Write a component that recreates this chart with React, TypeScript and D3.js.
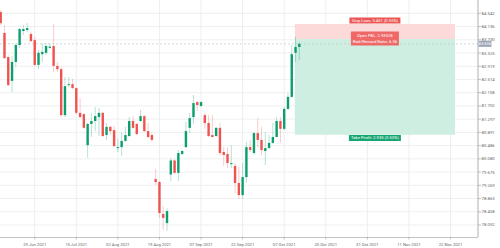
import React from "react";
import * as d3 from "d3";

const opens = [
  84.58, 83.94, 83.2, 82.47, 83.05, 83.57, 84.0, 84.03, 83.91, 83.72,
  82.96, 83.29, 83.33, 83.48, 83.54, 82.93, 82.83, 81.42, 82.34, 82.37,
  82.25, 81.49, 81.45, 80.5, 81.15, 81.24, 81.36, 81.49, 80.81, 81.06,
  80.96, 80.41, 80.44, 80.63, 80.78, 81.24, 81.15, 81.24, 81.39, 80.93,
  80.81, 79.46, 79.37, 78.39, 78.11, 79.6, 80.03, 79.65, 80.23, 80.44,
  81.03, 81.36, 81.82, 81.7, 81.42, 81.18, 80.81, 80.78, 81.03, 80.29,
  80.23, 79.92, 79.86, 79.34, 78.97, 79.52, 80.44, 80.26, 80.87, 80.66,
  80.32, 80.41, 80.57, 80.75, 81.24, 81.0, 81.61, 81.98, 83.33, 83.51,
];
const highs = [
  84.64, 84.18, 83.26, 83.23, 83.63, 84.09, 84.18, 84.24, 83.97, 83.82,
  83.42, 83.63, 83.63, 83.63, 84.21, 83.05, 82.9, 82.59, 82.59, 82.53,
  82.28, 81.95, 81.49, 81.18, 81.49, 81.67, 81.64, 81.52, 81.18, 81.09,
  81.09, 80.69, 80.9, 81.06, 81.36, 81.39, 81.18, 81.58, 81.42, 81.18,
  80.87, 79.77, 79.4, 78.63, 78.57, 80.11, 80.07, 80.35, 80.35, 81.21,
  81.49, 82.04, 81.85, 81.85, 81.49, 81.42, 81.42, 81.06, 81.18, 80.44,
  80.44, 80.5, 79.95, 79.83, 79.95, 80.6, 80.66, 80.9, 81.33, 81.06,
  80.9, 80.81, 81.18, 81.36, 81.36, 81.67, 82.1, 83.57, 83.82, 83.66,
];
const lows = [
  84.18, 83.14, 82.31, 82.13, 82.9, 83.48, 83.88, 83.97, 83.66, 82.93,
  82.83, 83.05, 83.26, 83.45, 82.74, 82.74, 81.36, 81.36, 82.28, 82.22,
  81.45, 81.33, 81.0, 80.11, 80.75, 80.93, 80.78, 80.75, 80.66, 80.81,
  80.44, 80.29, 80.17, 80.6, 80.75, 81.0, 80.81, 81.21, 80.9, 80.72,
  80.6, 79.28, 78.27, 77.9, 77.87, 79.4, 79.6, 79.4, 80.2, 80.41,
  80.87, 81.15, 81.55, 81.67, 81.0, 80.75, 80.73, 80.75, 80.17, 79.86,
  79.8, 79.8, 79.03, 78.85, 78.85, 79.34, 80.29, 80.2, 80.44, 80.2,
  79.89, 80.38, 80.54, 80.75, 80.57, 80.96, 81.58, 81.95, 83.05, 83.11,
];
const closes = [
  84.24, 83.17, 82.34, 83.05, 83.57, 84.06, 84.06, 84.09, 83.69, 82.96,
  83.33, 83.36, 83.54, 83.52, 82.93, 82.83, 81.42, 82.31, 82.37, 82.25,
  81.49, 81.36, 81.03, 81.15, 81.24, 81.39, 81.49, 80.78, 81.06, 80.93,
  80.47, 80.44, 80.63, 80.81, 81.24, 81.03, 80.84, 81.39, 80.93, 80.75,
  80.66, 79.37, 78.42, 78.27, 78.48, 80.03, 79.65, 80.26, 80.32, 80.93,
  81.33, 81.79, 81.73, 81.82, 81.18, 80.78, 80.75, 81.03, 80.26, 80.2,
  79.95, 79.95, 79.34, 78.97, 79.52, 80.44, 80.35, 80.87, 80.66, 80.35,
  80.41, 80.57, 80.75, 81.24, 81.0, 81.61, 81.98, 83.29, 83.51, 83.606,
];

const yTicks = [
  84.542, 84.136, 83.73, 83.325, 82.919, 82.514, 82.108, 81.702, 81.297,
  80.891, 80.486, 80.08, 79.675, 79.269, 78.863, 78.458, 78.052,
];
const xTickIndex = [9, 20, 31, 42, 53, 64, 75, 86, 97, 108, 119];
const xTickLabels = [
  "29 Jun 2021", "15 Jul 2021", "02 Aug 2021", "19 Aug 2021", "07 Sep 2021",
  "22 Sep 2021", "07 Oct 2021", "20 Oct 2021", "31 Oct 2021", "11 Nov 2021",
  "22 Nov 2021",
];

const entryPrice = 83.754;
const stopPrice = 84.215;
const targetPrice = 80.819;
const positionStart = 77.8;
const positionEnd = 120.2;
const currentPrice = 83.606;
const stopLabel = "Stop Loss: 0.461 (0.55%)";
const pnlLabel = "Open P&L: 2.93528";
const rrLabel = "Risk/Reward Ratio: 6.36";
const tpLabel = "Take Profit: 2.935 (3.50%)";

const W = 500;
const H = 248;
const plotRight = 478;
const plotBottom = 237;
const font = "Roboto, 'Open Sans', sans-serif";

export default function App() {
  const x = d3.scaleLinear().domain([0, 126.3]).range([0.7, 0.7 + 126.3 * 3.78]);
  const y = d3.scaleLinear().domain([77.684, 84.95]).range([plotBottom, 0]);
  const up = "#0c9e6c";
  const down = "#ef5350";
  const bw = 2.4;
  const midX = (x(positionStart) + x(positionEnd)) / 2;

  return (
    <div style={{ position: "fixed", left: 0, top: 0 }}>
      <svg width={W} height={H} style={{ display: "block", background: "#fff" }} fontFamily={font}>
        {/* grid */}
        {yTicks.map((t) => (
          <line key={"gy" + t} x1={0} x2={plotRight} y1={y(t)} y2={y(t)} stroke="#eef1f0" strokeWidth={1} />
        ))}
        {xTickIndex.map((t) => (
          <line key={"gx" + t} x1={x(t)} x2={x(t)} y1={0} y2={plotBottom} stroke="#eaf0ee" strokeWidth={1} />
        ))}
        {/* position zones */}
        <rect x={x(positionStart)} width={x(positionEnd) - x(positionStart)} y={y(stopPrice)} height={y(entryPrice) - y(stopPrice)} fill="#fcdada" />
        <rect x={x(positionStart)} width={x(positionEnd) - x(positionStart)} y={y(entryPrice)} height={y(targetPrice) - y(entryPrice)} fill="#cdeee1" />
        {/* current price dashed line */}
        <line x1={0} x2={plotRight} y1={y(currentPrice)} y2={y(currentPrice)} stroke="#c9ced6" strokeDasharray="2,2" strokeWidth={0.8} />
        {/* candles */}
        {closes.map((c, i) => {
          const o = opens[i];
          const isUp = c >= o;
          const col = isUp ? up : down;
          const top = y(Math.max(o, c));
          const bot = y(Math.min(o, c));
          return (
            <g key={i}>
              <line x1={x(i)} x2={x(i)} y1={y(highs[i])} y2={y(lows[i])} stroke={col} strokeOpacity={0.3} strokeWidth={1} />
              <rect x={x(i) - bw / 2} width={bw} y={top} height={Math.max(bot - top, 0.8)} fill={col} />
            </g>
          );
        })}
        {/* labels */}
        <rect x={midX - 25.5} y={17.5} width={51} height={6} fill="#ec5555" />
        <text x={midX} y={21.9} fontSize={4.2} fill="#fff" textAnchor="middle">{stopLabel}</text>
        <rect x={midX - 24} y={31.5} width={48} height={14} fill="#ef6161" fillOpacity={0.95} />
        <text x={midX} y={36.8} fontSize={4.2} fill="#fff" textAnchor="middle">{pnlLabel}</text>
        <text x={midX} y={43} fontSize={4.2} fill="#fff" textAnchor="middle">{rrLabel}</text>
        <rect x={midX - 26} y={135} width={52} height={6} fill="#17a672" />
        <text x={midX} y={139.4} fontSize={4.2} fill="#fff" textAnchor="middle">{tpLabel}</text>
        {/* axes */}
        <line x1={plotRight} x2={plotRight} y1={0} y2={plotBottom} stroke="#9a9a9a" strokeWidth={0.8} />
        <line x1={0} x2={plotRight} y1={plotBottom + 0.5} y2={plotBottom + 0.5} stroke="#c4c4c4" strokeWidth={1.2} />
        {yTicks.map((t) => (
          <g key={"yt" + t}>
            <line x1={plotRight} x2={plotRight + 3} y1={y(t)} y2={y(t)} stroke="#9a9a9a" strokeWidth={0.6} />
            <text x={plotRight + 3.5} y={y(t) + 1.5} fontSize={4.3} fill="#666">{t.toFixed(3)}</text>
          </g>
        ))}
        {xTickIndex.map((t, k) => (
          <g key={"xt" + t}>
            <line x1={x(t)} x2={x(t)} y1={plotBottom} y2={plotBottom + 2.5} stroke="#9a9a9a" strokeWidth={0.6} />
            <text x={x(t)} y={245.5} fontSize={4.2} fill="#666" textAnchor="middle">{xTickLabels[k]}</text>
          </g>
        ))}
        <rect x={plotRight + 0.5} y={y(currentPrice) - 3} width={13} height={6} fill="#9ba5b6" />
        <text x={plotRight + 7} y={y(currentPrice) + 1.5} fontSize={4.2} fill="#fff" textAnchor="middle">{currentPrice.toFixed(3)}</text>
      </svg>
    </div>
  );
}
